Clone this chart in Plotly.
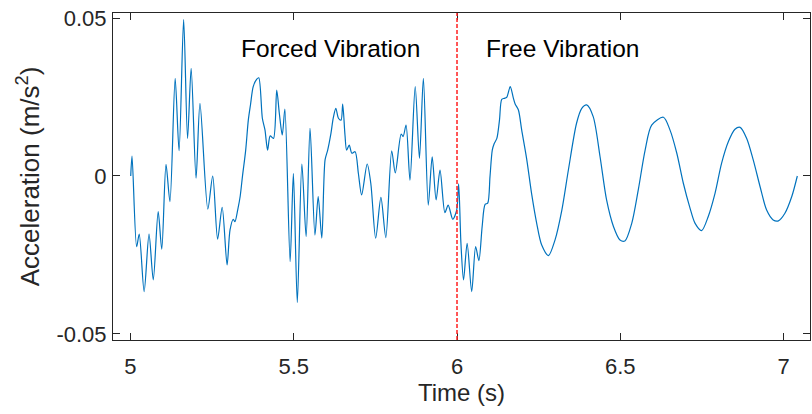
import plotly.graph_objects as go

# Time (s) and acceleration (m/s^2)
time_s = [
    5.001, 5.005, 5.019, 5.027, 5.042, 5.057, 5.070, 5.085, 5.096, 5.109,
    5.121, 5.137, 5.149, 5.163, 5.175, 5.186, 5.201, 5.213, 5.237, 5.252,
    5.267, 5.281, 5.296, 5.305, 5.315, 5.320, 5.329, 5.336, 5.343, 5.353,
    5.361, 5.368, 5.376, 5.387, 5.393, 5.404, 5.412, 5.420, 5.428, 5.438,
    5.448, 5.456, 5.465, 5.473, 5.489, 5.499, 5.511, 5.525, 5.538, 5.550,
    5.565, 5.575, 5.586, 5.596, 5.604, 5.614, 5.621, 5.629, 5.637, 5.645,
    5.650, 5.657, 5.662, 5.670, 5.678, 5.688, 5.698, 5.708, 5.725, 5.736,
    5.751, 5.767, 5.782, 5.800, 5.811, 5.829, 5.835, 5.844, 5.856, 5.872,
    5.885, 5.897, 5.912, 5.924, 5.936, 5.948, 5.963, 5.973, 5.987, 5.999,
    6.005, 6.012, 6.020, 6.031, 6.045, 6.057, 6.067, 6.077, 6.086, 6.094,
    6.101, 6.108, 6.114, 6.122, 6.130, 6.137, 6.145, 6.152, 6.163, 6.172,
    6.178, 6.188, 6.198, 6.213, 6.229, 6.244, 6.259, 6.280, 6.300, 6.321,
    6.341, 6.366, 6.382, 6.397, 6.417, 6.438, 6.458, 6.479, 6.499, 6.514,
    6.535, 6.555, 6.576, 6.596, 6.632, 6.652, 6.673, 6.693, 6.713, 6.729,
    6.749, 6.769, 6.790, 6.810, 6.831, 6.851, 6.867, 6.887, 6.907, 6.928,
    6.948, 6.968, 6.984, 7.004, 7.025, 7.042,
]
accel = [
    0.0000, 0.0063, -0.0224, -0.0184, -0.0366, -0.0184, -0.0329, -0.0113, -0.0232, 0.0037,
    -0.0081, 0.0309, 0.0080, 0.0496, 0.0119, 0.0341, -0.0007, 0.0230, -0.0105, 0.0000,
    -0.0200, -0.0099, -0.0282, -0.0171, -0.0137, -0.0145, -0.0105, -0.0065, -0.0002, 0.0082,
    0.0177, 0.0228, 0.0283, 0.0307, 0.0311, 0.0183, 0.0146, 0.0082, 0.0127, 0.0119,
    0.0272, 0.0198, 0.0130, 0.0212, -0.0271, 0.0008, -0.0401, 0.0038, -0.0192, 0.0151,
    -0.0187, -0.0065, -0.0197, 0.0051, 0.0082, 0.0135, 0.0183, 0.0214, 0.0183, 0.0177,
    0.0228, 0.0130, 0.0082, 0.0098, 0.0072, 0.0077, 0.0008, -0.0060, 0.0038, -0.0023,
    -0.0197, -0.0068, -0.0195, 0.0080, 0.0010, 0.0133, 0.0125, 0.0161, -0.0013, 0.0283,
    0.0056, 0.0309, -0.0092, 0.0061, -0.0076, 0.0019, -0.0116, -0.0092, -0.0137, -0.0108,
    -0.0025, -0.0213, -0.0329, -0.0213, -0.0366, -0.0224, -0.0268, -0.0160, -0.0090, -0.0086,
    -0.0002, 0.0082, 0.0103, 0.0119, 0.0177, 0.0243, 0.0246, 0.0249, 0.0283, 0.0249,
    0.0228, 0.0209, 0.0146, 0.0056, -0.0060, -0.0150, -0.0218, -0.0252, -0.0203, -0.0108,
    0.0019, 0.0167, 0.0214, 0.0225, 0.0188, 0.0061, -0.0076, -0.0160, -0.0203, -0.0206,
    -0.0150, -0.0044, 0.0082, 0.0161, 0.0186, 0.0146, 0.0072, -0.0023, -0.0100, -0.0150,
    -0.0173, -0.0129, -0.0055, 0.0040, 0.0109, 0.0148, 0.0154, 0.0119, 0.0051, -0.0034,
    -0.0108, -0.0139, -0.0142, -0.0118, -0.0065, 0.0000,
]

x_ticks = [5, 5.5, 6, 6.5, 7]
x_tick_labels = ["5", "5.5", "6", "6.5", "7"]
y_ticks = [-0.05, 0, 0.05]
y_tick_labels = ["-0.05", "0", "0.05"]

split_time = 6.0
forced_label = ("Forced Vibration", 5.333, 0.0405)
free_label = ("Free Vibration", 6.083, 0.0405)

axis_color = "#262626"
font_family = "Arial, Liberation Sans, sans-serif"

fig = go.Figure()
fig.add_trace(go.Scatter(
    x=time_s, y=accel, mode="lines",
    line=dict(color="#0072BD", width=1.2, shape="spline", smoothing=0.8),
    showlegend=False, hoverinfo="skip",
))

fig.add_shape(type="line", xref="x", yref="paper",
              x0=split_time, x1=split_time, y0=0, y1=1,
              line=dict(color="#FF2020", width=1.5, dash="4px,2px"))

for text, tx, ty in (forced_label, free_label):
    fig.add_annotation(x=tx, y=ty, xref="x", yref="y", text=text,
                       showarrow=False, xanchor="left", yanchor="middle",
                       font=dict(family=font_family, size=24.5, color="#000000"))

axis_common = dict(
    showline=True, linecolor=axis_color, linewidth=1, mirror="ticks",
    ticks="inside", ticklen=7, tickwidth=1, tickcolor=axis_color,
    showgrid=False, zeroline=False, ticklabeloverflow="allow",
    tickfont=dict(family=font_family, size=22, color=axis_color),
)

fig.update_xaxes(
    range=[4.9467, 7.0808], tickvals=x_ticks, ticktext=x_tick_labels,
    title=dict(text="Time (s)", font=dict(family=font_family, size=24, color=axis_color), standoff=4),
    ticklabelstandoff=7,
    **axis_common,
)
fig.update_yaxes(
    range=[-0.05195, 0.05163], tickvals=y_ticks, ticktext=y_tick_labels,
    title=dict(text="Acceleration (m/s<sup>2</sup>)", font=dict(family=font_family, size=26, color=axis_color), standoff=9),
    ticklabelstandoff=1,
    **axis_common,
)

fig.update_layout(
    width=812, height=414,
    margin=dict(l=113, r=2, t=13, b=74, autoexpand=False),
    plot_bgcolor="white", paper_bgcolor="white",
)

# Remove the default 8 px page margin so the figure fills the window exactly.
fig.write_html(
    "out.html",
    config={"displayModeBar": False},
    post_script="document.body.style.margin='0';document.body.style.overflow='hidden';",
)
